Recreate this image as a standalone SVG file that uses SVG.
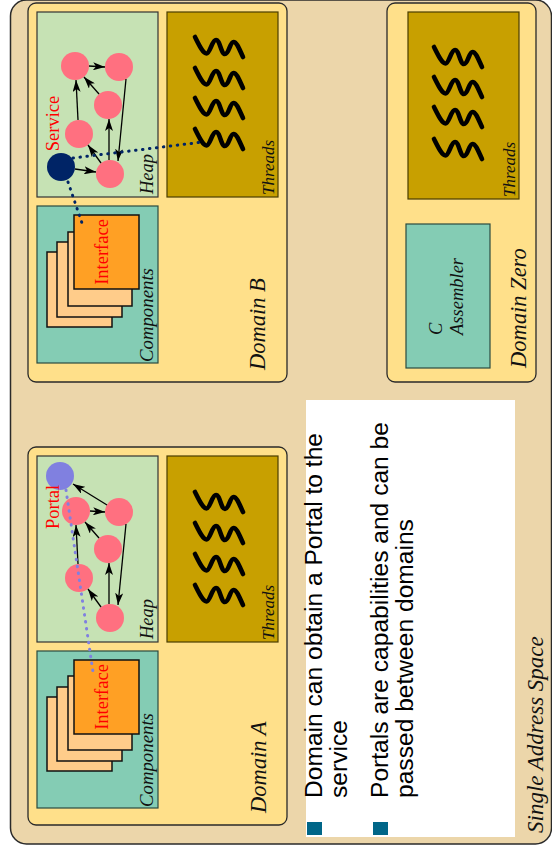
<svg xmlns="http://www.w3.org/2000/svg" width="552" height="853" viewBox="0 0 552 853">
<defs>
<style>
.space{fill:#ecd6aa;stroke:#2a2a2a;stroke-width:1.5}
.domain{fill:#ffe08a;stroke:#2a2a2a;stroke-width:1.3}
.heap{fill:#c6e2b4;stroke:#333;stroke-width:1.2}
.threads{fill:#c8a000;stroke:#4a3c00;stroke-width:1.2}
.comps{fill:#84ccb4;stroke:#2a4a40;stroke-width:1.2}
.card{fill:#ffcc8a;stroke:#111;stroke-width:1.5}
.front{fill:#ffa024;stroke:#111;stroke-width:1.5}
.obj{fill:#ff7080}
.lbl{font-family:"Liberation Serif","Times New Roman",serif;font-style:italic;fill:#111}
.red{font-family:"Liberation Serif","Times New Roman",serif;fill:#ff0000;font-size:18.5px}
.wave{fill:none;stroke:#000;stroke-width:4.6;stroke-linecap:round;stroke-linejoin:round}
.arrow{stroke:#000;stroke-width:1.3;fill:none;marker-end:url(#ah)}
.dotB{stroke:#002466;stroke-width:3;stroke-dasharray:0.5 6.5;stroke-linecap:round;fill:none}
.dotA{stroke:#8080e0;stroke-width:3;stroke-dasharray:0.5 6.5;stroke-linecap:round;fill:none}
.bul{font-family:"Liberation Sans",Arial,sans-serif;font-size:24.6px;fill:#000}
.sq{fill:#006688}
</style>
<marker id="ah" viewBox="0 0 12 8" refX="12" refY="4" markerWidth="12" markerHeight="8" markerUnits="userSpaceOnUse" orient="auto">
<path d="M0,0 L12,4 L0,8 L3,4 z" fill="#000"/>
</marker>
<path id="wave" class="wave" d="M0,0 C4,8 8,16.5 11.5,16.5 C15,16.5 17,3 21,3 C25,3 26,17 30,17 C34,17 35,5 38.5,5 C42,5 45,14 48,20"/>
</defs>

<g id="single-address-space">
<rect class="space" x="10.5" y="0" width="541" height="844" rx="16"/>
<text class="lbl" font-size="23" transform="translate(543,833) rotate(-90)">Single Address Space</text>
</g>

<g id="domain-b">
<rect class="domain" x="28" y="3" width="259" height="379" rx="8"/>
<text class="lbl" font-size="22.5" transform="translate(265,370) rotate(-90)">Domain B</text>
</g>
<g id="heap-b">
<rect class="heap" x="37" y="12" width="121" height="185"/>
<text class="lbl" font-size="18.5" transform="translate(153,194) rotate(-90)">Heap</text>
</g>
<g id="threads-b">
<rect class="threads" x="167" y="12" width="111" height="185"/>
<use href="#wave" x="195" y="37"/>
<use href="#wave" x="195" y="68"/>
<use href="#wave" x="195" y="98"/>
<use href="#wave" x="195" y="129"/>
<text class="lbl" font-size="17" transform="translate(274,195) rotate(-90)">Threads</text>
</g>
<g id="components-b">
<rect class="comps" x="37" y="206" width="121" height="157"/>
<rect class="card" x="47" y="252" width="65" height="75"/>
<rect class="card" x="57" y="242" width="65" height="75"/>
<rect class="card" x="68" y="232" width="64" height="74"/>
<rect class="front" x="74" y="215" width="65" height="74"/>
<text class="red" text-anchor="middle" transform="translate(108,252) rotate(-90)">Interface</text>
<text class="lbl" font-size="18.8" transform="translate(153,362) rotate(-90)">Components</text>
</g>
<g id="heap-b-objects">
<circle class="obj" cx="75" cy="66" r="14"/>
<circle class="obj" cx="119" cy="67" r="14"/>
<circle class="obj" cx="108" cy="105" r="14"/>
<circle class="obj" cx="79" cy="134" r="14"/>
<circle class="obj" cx="110" cy="174" r="14"/>
</g>
<g id="service">
<circle cx="61" cy="167" r="14" fill="#002466"/>
<text class="red" text-anchor="middle" transform="translate(59,123.5) rotate(-90)">Service</text>
</g>

<g id="domain-zero">
<rect class="domain" x="387" y="3" width="149" height="379" rx="8"/>
<text class="lbl" font-size="22.5" transform="translate(526,368) rotate(-90)">Domain Zero</text>
</g>
<g id="threads-zero">
<rect class="threads" x="408" y="12" width="111" height="187"/>
<use href="#wave" x="434" y="47"/>
<use href="#wave" x="434" y="77"/>
<use href="#wave" x="434" y="107"/>
<use href="#wave" x="434" y="139"/>
<text class="lbl" font-size="17" transform="translate(515,197) rotate(-90)">Threads</text>
</g>
<g id="assembler">
<rect class="comps" x="406" y="224" width="84" height="144"/>
<text class="lbl" font-size="18.5" transform="translate(442,335) rotate(-90)">C</text>
<text class="lbl" font-size="18.5" transform="translate(463,335) rotate(-90)">Assembler</text>
</g>

<g id="domain-a">
<rect class="domain" x="28" y="447" width="259" height="378" rx="8"/>
<text class="lbl" font-size="22.5" transform="translate(266,813) rotate(-90)">Domain A</text>
</g>
<g id="heap-a">
<rect class="heap" x="37" y="456" width="121" height="186"/>
<text class="lbl" font-size="18.5" transform="translate(153,639) rotate(-90)">Heap</text>
</g>
<g id="threads-a">
<rect class="threads" x="167" y="456" width="111" height="186"/>
<use href="#wave" x="195" y="492"/>
<use href="#wave" x="195" y="523"/>
<use href="#wave" x="195" y="554"/>
<use href="#wave" x="195" y="585"/>
<text class="lbl" font-size="17" transform="translate(274,640) rotate(-90)">Threads</text>
</g>
<g id="components-a">
<rect class="comps" x="37" y="651" width="121" height="157"/>
<rect class="card" x="47" y="697" width="65" height="74"/>
<rect class="card" x="57" y="687" width="65" height="74"/>
<rect class="card" x="68" y="676" width="64" height="74"/>
<rect class="front" x="74" y="660" width="65" height="74"/>
<text class="red" text-anchor="middle" transform="translate(108,697) rotate(-90)">Interface</text>
<text class="lbl" font-size="18.8" transform="translate(153,807) rotate(-90)">Components</text>
</g>
<g id="heap-a-objects">
<circle class="obj" cx="76" cy="511" r="14"/>
<circle class="obj" cx="119" cy="512" r="14"/>
<circle class="obj" cx="108" cy="549" r="14"/>
<circle class="obj" cx="79" cy="578" r="14"/>
<circle class="obj" cx="110" cy="618" r="14"/>
</g>
<g id="portal">
<circle cx="60" cy="476" r="14" fill="#8080e0"/>
<text class="red" transform="translate(59,529) rotate(-90)">Portal</text>
</g>

<g id="notes">
<rect x="306" y="400" width="209" height="437" fill="#ffffff"/>
<rect class="sq" x="307" y="822" width="15" height="13"/>
<rect class="sq" x="373" y="822" width="15" height="13"/>
<text class="bul" transform="translate(322,798) rotate(-90)">Domain can obtain a Portal to the</text>
<text class="bul" transform="translate(347,798) rotate(-90)">service</text>
<text class="bul" transform="translate(388,798) rotate(-90)">Portals are capabilities and can be</text>
<text class="bul" transform="translate(413,798) rotate(-90)">passed between domains</text>
</g>

<g id="connectors">
<line class="arrow" x1="89" y1="66" x2="105" y2="67"/>
<line class="arrow" x1="126" y1="79" x2="118" y2="161"/>
<line class="arrow" x1="78" y1="120" x2="76" y2="80"/>
<line class="arrow" x1="99" y1="94" x2="84" y2="77"/>
<line class="arrow" x1="109" y1="160" x2="109" y2="119"/>
<line class="arrow" x1="101" y1="163" x2="88" y2="145"/>
<line class="arrow" x1="75" y1="169" x2="96" y2="172"/>
<line class="arrow" x1="107" y1="505" x2="73" y2="484"/>
<line class="arrow" x1="90" y1="511" x2="105" y2="512"/>
<line class="arrow" x1="126" y1="524" x2="118" y2="605"/>
<line class="arrow" x1="78" y1="564" x2="76" y2="525"/>
<line class="arrow" x1="99" y1="538" x2="85" y2="522"/>
<line class="arrow" x1="109" y1="604" x2="109" y2="563"/>
<line class="arrow" x1="101" y1="607" x2="88" y2="589"/>
<path class="dotB" d="M73,158 L203,142"/>
<path class="dotB" d="M68,182 L83,226"/>
<path class="dotA" d="M66,490 L93,672"/>
</g>
</svg>
